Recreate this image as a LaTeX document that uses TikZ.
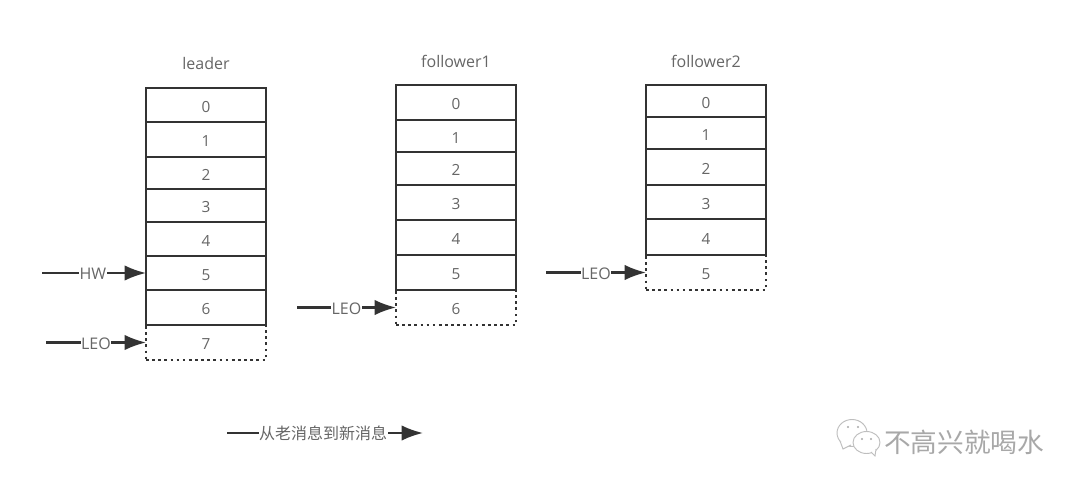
\documentclass[tikz,border=0pt]{standalone}
\usepackage{fontspec}
\setmainfont{Open Sans}
\newfontfamily\cjk{Noto Sans CJK SC}
\usetikzlibrary{arrows.meta}
\definecolor{ink}{HTML}{333333}
\definecolor{txt}{HTML}{666666}
\definecolor{wmgray}{HTML}{A8A8A8}
\tikzset{
  cell/.style={draw=ink,line width=1.6pt,minimum width=90pt,inner sep=0pt,outer sep=0pt,text=txt,text height=11pt,text depth=0pt,font=\fontsize{11.5}{13}\selectfont},
  dotcell/.style={cell,dash pattern=on 2pt off 2.6pt},
  title/.style={text=txt,inner sep=0pt,font=\fontsize{12}{14}\selectfont},
  conn/.style={draw=ink,line width=1.6pt,-{Latex[length=16pt,width=11.5pt]}},
  lab/.style={fill=white,text=txt,inner sep=0.4pt,text height=10pt,text depth=0pt,font=\fontsize{12}{14}\selectfont},
  bubble/.style={draw=wmgray!75,line width=0.7pt,fill=white},
}
\begin{document}
\begin{tikzpicture}[x=0.75pt,y=-0.75pt]
\useasboundingbox (0,0) rectangle (1080,488);
\fill[white] (0,0) rectangle (1080,488);
% titles
\node[title] (tL) at (206,64) {leader};
\node[title] (tA) at (456,61) {follower1};
\node[title] (tB) at (706,61) {follower2};
% leader
\foreach \n/\t/\b in {0/88/122,1/122/157,2/157/189,3/189/222,4/222/256,5/256/290,6/290/325}
  \node[cell,minimum height={(\b-\t)*0.75pt}] (L\n) at (206,{(\t+\b)/2}) {\n};
\node[dotcell,minimum height=26.25pt] (L7) at (206,342.5) {7};
% follower1
\foreach \n/\t/\b in {0/85/120,1/120/152,2/152/185,3/185/220,4/220/255,5/255/290}
  \node[cell,minimum height={(\b-\t)*0.75pt}] (A\n) at (456,{(\t+\b)/2}) {\n};
\node[dotcell,minimum height=26.25pt] (A6) at (456,307.5) {6};
% follower2
\foreach \n/\t/\b in {0/85/117,1/117/149,2/149/185,3/185/219,4/219/255}
  \node[cell,minimum height={(\b-\t)*0.75pt}] (B\n) at (706,{(\t+\b)/2}) {\n};
\node[dotcell,minimum height=26.25pt] (B5) at (706,272.5) {5};
% free ends
\coordinate (hw0) at (42,273);
\coordinate (leoL) at (46,342.5);
\coordinate (leoA) at (297,307.5);
\coordinate (leoB) at (546,272.5);
\coordinate (old) at (227,433);
\coordinate (new) at (423,433);
% connectors
\draw[conn] (hw0) -- node[lab,pos=0.49] (hwlab) {HW} (L5.west);
\draw[conn] (leoL) -- node[lab,pos=0.5] (leolabL) {LEO} (L7.west);
\draw[conn] (leoA) -- node[lab,pos=0.5] (leolabA) {LEO} (A6.west);
\draw[conn] (leoB) -- node[lab,pos=0.5] (leolabB) {LEO} (B5.west);
\draw[conn] (old) -- node[lab,pos=0.49,font=\cjk\fontsize{12}{14}\selectfont] (dir) {从老消息到新消息} (new);
% watermark
\draw[bubble] (852,433) ellipse (15 and 13.5);
\draw[bubble] (840,441) -- (843,449) -- (851,445);
\draw[bubble] (866.5,442.5) ellipse (13.5 and 11);
\draw[bubble] (871,452) -- (875,456) -- (876,449);
\fill[wmgray] (848,427) circle (1.2) (858,427) circle (1.2);
\fill[wmgray] (862,439) circle (1.2) (871,439) circle (1.2);
\node[text=wmgray,inner sep=0pt,font=\cjk\fontsize{20}{24}\selectfont] (wm) at (964,442) {不高兴就喝水};
\end{tikzpicture}
\end{document}
